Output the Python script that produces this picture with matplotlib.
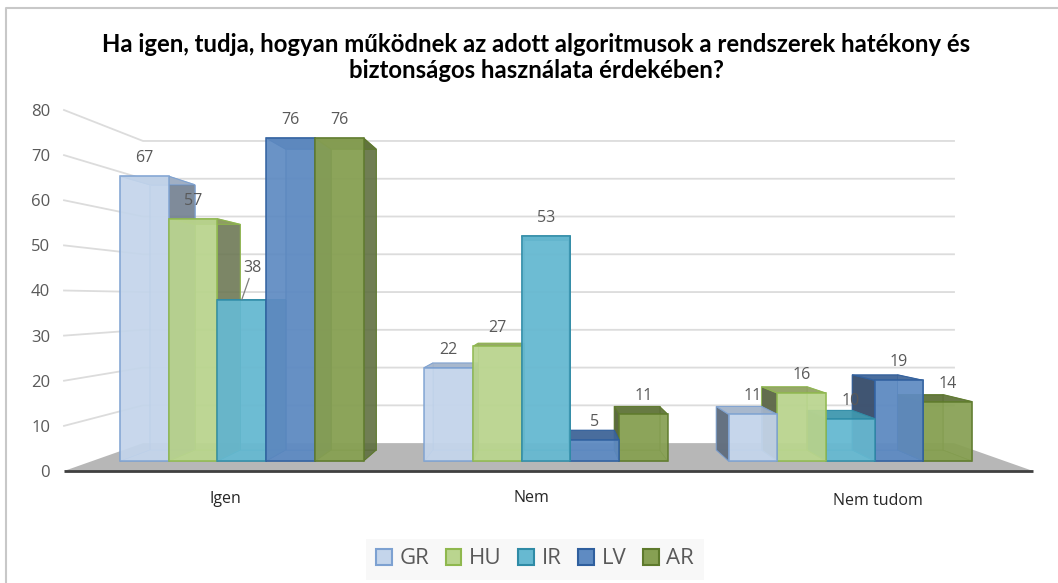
import matplotlib
matplotlib.use('Agg')
from matplotlib import pyplot as plt
from matplotlib.patches import Polygon, Patch
from matplotlib.lines import Line2D

plt.rcParams['font.family'] = ['Open Sans', 'DejaVu Sans']

title = 'Ha igen, tudja, hogyan működnek az adott algoritmusok a rendszerek hatékony és\nbiztonságos használata érdekében?'
categories = ['Igen', 'Nem', 'Nem tudom']
series = ['GR', 'HU', 'IR', 'LV', 'AR']
GR = [67, 22, 11]
HU = [57, 27, 16]
IR = [38, 53, 10]
LV = [76, 5, 19]
AR = [76, 11, 14]
values = [GR, HU, IR, LV, AR]
yticks = [0, 10, 20, 30, 40, 50, 60, 70, 80]

# front, side, top, edge
colors = {
	'GR': ('#c4d5eb', '#5f6c7c', '#a3b3c9', '#7da1d1'),
	'HU': ('#bad58f', '#5d6648', '#8fa060', '#8fb84e'),
	'IR': ('#67b9d1', '#2f7f90', '#3f97ae', '#2f8ba6'),
	'LV': ('#5f8bc2', '#3b4f6c', '#3f6496', '#2f5f9e'),
	'AR': ('#87a053', '#56653a', '#5e7138', '#5e7a2c'),
}

W, H = 1058, 583
vp_x, vp_y = 1.5, 37.9  # vanishing point of the 3D box, in data units
wall_t = 0.163
bar_t1, bar_t2 = 0.058, 0.123
bar_w = 0.16
bar_start = 0.092


def proj(x, y, t):
	return x + (vp_x - x) * t, y + (vp_y - y) * t


def face(ax, pts, fc, ec, alpha, z, lw=1.0):
	ax.add_patch(Polygon(pts, closed=True, facecolor=matplotlib.colors.to_rgba(fc, alpha),
		edgecolor=matplotlib.colors.to_rgba(ec, 0.85), linewidth=lw, zorder=z, clip_on=False))


def draw_bar(ax, x0, v, name, z):
	front, side, top, edge = colors[name]
	x1 = x0 + bar_w
	a, b = bar_t1, bar_t2
	back = [proj(x0, 0, b), proj(x1, 0, b), proj(x1, v, b), proj(x0, v, b)]
	left = [proj(x0, 0, a), proj(x0, 0, b), proj(x0, v, b), proj(x0, v, a)]
	right = [proj(x1, 0, a), proj(x1, 0, b), proj(x1, v, b), proj(x1, v, a)]
	bottom = [proj(x0, 0, a), proj(x1, 0, a), proj(x1, 0, b), proj(x0, 0, b)]
	upper = [proj(x0, v, a), proj(x1, v, a), proj(x1, v, b), proj(x0, v, b)]
	front_f = [proj(x0, 0, a), proj(x1, 0, a), proj(x1, v, a), proj(x0, v, a)]
	face(ax, back, front, edge, 0.55, z, 0.5)
	face(ax, bottom, front, edge, 0.55, z, 0.5)
	# the side towards the middle of the chart is the one seen from outside
	if x0 + bar_w / 2 < vp_x:
		face(ax, left, front, edge, 0.3, z, 0.5)
		face(ax, right, side, edge, 0.75, z, 0.8)
	else:
		face(ax, right, front, edge, 0.3, z, 0.5)
		face(ax, left, side, edge, 0.95, z, 0.8)
	face(ax, upper, top, edge, 0.9, z, 0.8)
	face(ax, front_f, front, edge, 0.9, z + 0.01, 1.2)


def draw_chart():
	fig = plt.figure(figsize=(W / 100, H / 100), dpi=100)
	fig.patch.set_facecolor('white')
	ax = fig.add_axes([64 / W, 1 - 471 / H, (1033 - 64) / W, (471 - 110) / H])
	ax.set_xlim(0, 3)
	ax.set_ylim(0, 80)
	ax.patch.set_visible(False)
	for s in ax.spines.values():
		s.set_visible(False)

	# chart frame, only top and left are inside the crop
	fig.add_artist(Line2D([6 / W, 6 / W, 1], [0, 1 - 8 / H, 1 - 8 / H], color='#c8c8c8', lw=1.5))

	# walls and floor
	for v in yticks[1:]:
		xs = [proj(0, v, 0)[0], proj(0, v, wall_t)[0], proj(3, v, wall_t)[0]]
		ys = [proj(0, v, 0)[1], proj(0, v, wall_t)[1], proj(3, v, wall_t)[1]]
		ax.plot(xs, ys, color='#dcdcdc', lw=1.3, zorder=1, clip_on=False)
	floor = [proj(0, 0, 0), proj(3, 0, 0), proj(3, 0, wall_t), proj(0, 0, wall_t)]
	ax.add_patch(Polygon(floor, closed=True, facecolor='#b7b7b7', edgecolor='none', zorder=2, clip_on=False))
	ax.plot([0, 3], [0, 0], color='#404040', lw=2, zorder=3, clip_on=False, solid_capstyle='butt')

	# bars, the ones furthest from the middle go first
	bars = []
	for i, name in enumerate(series):
		for c in range(len(categories)):
			x0 = c + bar_start + i * bar_w
			bars.append((abs(x0 + bar_w / 2 - vp_x), x0, values[i][c], name))
	bars.sort(key=lambda b: -b[0])
	for n, (d, x0, v, name) in enumerate(bars):
		draw_bar(ax, x0, v, name, 4 + n * 0.1)

	# data labels, in pixel offsets from the top of the front face
	for i, name in enumerate(series):
		for c in range(len(categories)):
			x0 = c + bar_start + i * bar_w
			v = values[i][c]
			px, py = proj(x0 + bar_w / 2, v, bar_t1)
			if name == 'IR' and c == 0:
				ax.annotate(str(v), (px, py), xytext=(8, 23), textcoords='offset points',
					ha='center', va='center', fontsize=11.5, color='#595959', zorder=20, annotation_clip=False,
					arrowprops=dict(arrowstyle='-', color='#7f7f7f', lw=0.9, shrinkA=0, shrinkB=0))
			else:
				ax.annotate(str(v), (px, py), xytext=(0, 13), textcoords='offset points',
					ha='center', va='center', fontsize=11.5, color='#595959', zorder=20, annotation_clip=False)

	ax.set_yticks(yticks)
	ax.set_xticks([])
	ax.tick_params(axis='y', length=0, pad=10, labelsize=12, labelcolor='#595959')

	# the category labels are off centre in the original
	ax.annotate(categories[0], (0.50, 0), xytext=(0, -20), textcoords='offset points', ha='center', va='center', fontsize=11.5, color='#262626', annotation_clip=False)
	ax.annotate(categories[1], (1.446, 0), xytext=(0, -19.5), textcoords='offset points', ha='center', va='center', fontsize=11.5, color='#262626', annotation_clip=False)
	ax.annotate(categories[2], (2.52, 0), xytext=(0, -21.5), textcoords='offset points', ha='center', va='center', fontsize=11.5, color='#262626', annotation_clip=False)

	fig.text(536 / W, 1 - 57.5 / H, title, ha='center', va='center', fontsize=17.2, fontweight='bold',
		family=['Lato', 'DejaVu Sans'], color='black', linespacing=1.2)

	handles = [Patch(facecolor=colors[s][0], edgecolor=colors[s][3], linewidth=1.5, label=s) for s in series]
	fig.legend(handles=handles, loc='center', bbox_to_anchor=(535 / W, 1 - 559 / H), ncol=5, fontsize=16,
		frameon=True, facecolor='#f8f8f8', edgecolor='none', framealpha=1, fancybox=False, borderpad=0.45,
		handlelength=0.7, handleheight=0.7, handletextpad=0.35, columnspacing=0.75, labelcolor='#595959')

	fig.savefig('out.png', dpi=100)


draw_chart()
